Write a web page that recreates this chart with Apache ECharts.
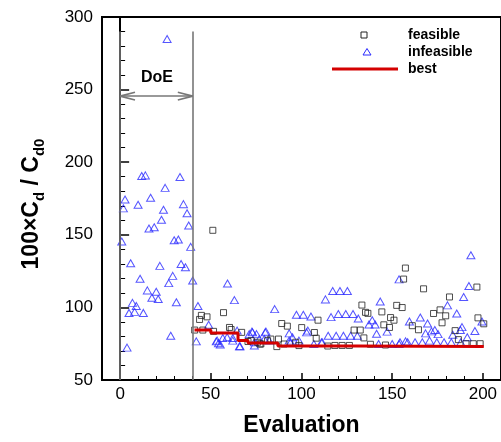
<!DOCTYPE html>
<html>
<head>
<meta charset="utf-8">
<script src="https://cdn.jsdelivr.net/npm/echarts@6/dist/echarts.min.js"></script>
<style>
html,body{margin:0;padding:0;background:#fff;}
#chart{width:501px;height:442px;}
</style>
</head>
<body>
<div id="chart"></div>
<script>
// ---- data ----
const xTicks = [0, 50, 100, 150, 200];
const xMinorTicks = [10,20,30,40,60,70,80,90,110,120,130,140,160,170,180,190];

const doeInfeasible = [
  [0.9,145.4],[1.8,168.2],[2.7,174.3],[3.8,72.3],[4.9,96.2],[5.8,130.4],[6.8,103.1],[8.0,96.9],
  [8.9,101.0],[9.9,170.7],[11.0,119.7],[11.9,190.5],[12.8,96.2],[13.9,190.9],[15.0,111.7],[15.9,154.3],
  [16.8,175.5],[17.5,106.7],[18.8,155.2],[19.9,110.8],[21.0,105.8],[21.9,128.6],[22.8,160.4],[23.9,167.3],
  [24.8,182.3],[25.9,284.8],[26.8,116.7],[27.9,80.5],[29.0,121.7],[29.8,146.3],[31.0,103.5],[32.1,146.8],
  [33.0,189.8],[33.6,129.9],[34.9,171.1],[36.0,127.7],[36.9,164.8],[37.8,156.4],[38.9,141.7],[40.0,118.5]
];

const infeasible = [
  [42.9,101],[42,76.6],[48.8,88],[53,76.6],[53.5,77.1],[54.2,75.3],[55.2,74.4],[56.6,78.9],[59,79.4],
  [59.2,116.5],[62.1,77.1],[62.1,78.9],[63,105],[64.5,84],[65.8,73.2],[66.1,73.2],[71.2,81.6],[72.7,83.3],
  [73,82.8],[74,76],[74,73.7],[75.2,81.6],[76.7,78.2],[79.5,78.2],[80,82.8],[80.4,83.3],[82.2,77.1],
  [85.2,98.8],[93.2,77.1],[93.2,82.1],[94,76],[95,79.4],[97.2,94.9],[98.6,77.1],[101,94.9],[102.8,82.8],
  [103.5,84],[105.2,93.7],[106.8,74.8],[111,76],[111.4,76],[113.2,105.5],[114.7,80.5],[116.3,93.3],
  [117.2,111.3],[119.1,80.5],[120.3,95.5],[121.2,111.3],[123.1,80.5],[124.4,95.5],[125.3,111.3],
  [127.1,80.5],[128.4,95.5],[130.8,80.5],[131.3,92.4],[137.2,88.2],[139,91.2],[140.6,88.2],[141.4,81.8],
  [142.5,74.8],[143.4,104.1],[147.2,83.3],[150,74.8],[153.8,119.3],[153.8,74.8],[154.3,76],[157.4,76.6],
  [158.5,76],[159.5,90.3],[162.6,76],[165.5,93],[166.6,76],[168.4,82.1],[169.5,88.9],[170.6,77.1],
  [171.7,83.5],[173.5,84.4],[174.6,76],[175.3,81.6],[178.6,76],[180.5,101.4],[182.6,76],[183.4,81.2],
  [185.6,95.8],[187.6,84.4],[187.8,76],[188.5,86.4],[189.4,107.2],[191.4,79.4],[192.3,114.7],
  [193.4,135.9],[195.6,83.7],[199.5,90.3]
];

const feasible = [
  [41.1,84.4],[43.8,91.7],[44.8,94.5],[45.6,84.4],[47.9,93.5],[51.1,153.1],[51.5,83.5],[57,96.4],
  [60.3,86.2],[61.2,84.8],[67,82.8],[70.5,76.5],[72.2,77.1],[75.8,76],[77.1,74.8],[77.6,74.8],[81.3,77.1],
  [83.1,78.2],[86.4,73],[87.3,78.2],[89.1,88.9],[90.4,74.8],[92.2,87.1],[96.8,76],[98.6,73.7],
  [100.1,86.1],[107.1,82.7],[108.1,78.8],[109.1,91.2],[114.5,73.4],[118.4,73.8],[122.4,73.8],
  [126.4,73.8],[129,84.4],[132.4,84.4],[133.3,101.6],[134.4,79],[135.3,96.6],[136.6,95.9],[138,74.6],
  [144.3,96.9],[145.4,88],[146.3,74.1],[148.5,86.2],[149.1,93],[151,91.2],[152.5,101.4],[155.5,99.9],
  [156.3,119.5],[157.3,127.1],[161.1,87.4],[164.5,84.6],[167.3,112.8],[172.8,95.8],[176.4,98.3],
  [177.5,89.4],[179.5,94.2],[181.6,107.2],[184.7,84],[186.5,77.8],[190.7,75],[194.7,75],[196.7,114],
  [197.3,92.8],[198.5,75],[200.5,88.7]
];

const best = [
  [41,84.4],[50,82.3],[65,77.2],[70.5,75.4],[87,73.5],[130,73.0],[200.5,73.0]
];

// ---- chart ----
const chart = echarts.init(document.getElementById('chart'), null, {renderer:'canvas'});
const FONT = '"Liberation Sans", Arial, sans-serif';
const gray = '#777';

const doeLines = [
  [{coord:[0,290]},{coord:[0,50]}],
  [{coord:[40,290]},{coord:[40,50]}],
  [{coord:[0,245.5]},{coord:[40,245.5]}],
  [{coord:[0,245.5]},{coord:[8.2,248.2]}],
  [{coord:[0,245.5]},{coord:[8.2,242.8]}],
  [{coord:[40,245.5]},{coord:[31.8,248.2]}],
  [{coord:[40,245.5]},{coord:[31.8,242.8]}]
];

chart.setOption({
  animation:false,
  backgroundColor:'#fff',
  grid:{left:102, top:17, width:401, height:366, show:true, borderColor:'#000', borderWidth:2, backgroundColor:'transparent'},
  xAxis:[{
    type:'value', min:-10, max:210,
    axisLine:{show:true, lineStyle:{color:'#000', width:2}},
    axisTick:{show:true, inside:true, length:7, customValues:xTicks, lineStyle:{color:'#000', width:1.5}},
    axisLabel:{show:true, customValues:xTicks, margin:6, fontFamily:FONT, fontSize:17, color:'#000'},
    splitLine:{show:false},
    name:'Evaluation', nameLocation:'middle', nameGap:34,
    nameTextStyle:{fontFamily:FONT, fontSize:23, fontWeight:'bold', color:'#000'}
  },{
    type:'value', min:-10, max:210, position:'bottom',
    axisLine:{show:false},
    axisTick:{show:true, inside:true, length:4, customValues:xMinorTicks, lineStyle:{color:'#000', width:1}},
    axisLabel:{show:false},
    splitLine:{show:false}
  }],
  yAxis:{
    type:'value', min:50, max:300, interval:50,
    axisLine:{show:true, lineStyle:{color:'#000', width:2}},
    axisTick:{show:true, inside:true, length:9, lineStyle:{color:'#000', width:1.5}},
    minorTick:{show:true, splitNumber:5, length:5, lineStyle:{color:'#000', width:1}},
    axisLabel:{margin:9, fontFamily:FONT, fontSize:17, color:'#000'},
    splitLine:{show:false}
  },
  series:[
    {
      name:'doe', type:'scatter', data:doeInfeasible, symbol:'triangle', symbolSize:[8,7],
      itemStyle:{color:'rgba(0,0,0,0)', borderColor:'#2b2bff', borderWidth:1}, z:2,
      markLine:{silent:true, symbol:'none', animation:false, label:{show:false},
        lineStyle:{color:gray, width:1.6, type:'solid'}, emphasis:{disabled:true}, data:doeLines}
    },
    {
      name:'infeasible', type:'scatter', data:infeasible, symbol:'triangle', symbolSize:[8,7],
      itemStyle:{color:'rgba(0,0,0,0)', borderColor:'#2b2bff', borderWidth:1}, z:2
    },
    {
      name:'feasible', type:'scatter', data:feasible, symbol:'rect', symbolSize:6,
      itemStyle:{color:'rgba(0,0,0,0)', borderColor:'#222', borderWidth:1}, z:3
    },
    {
      name:'best', type:'line', data:best, step:'end', showSymbol:false, symbol:'none',
      lineStyle:{color:'#d40000', width:3}, z:4
    }
  ],
  graphic:[
    {type:'text', x:157, y:78, style:{text:'DoE', font:'bold 16px '+FONT, fill:'#000', align:'center', verticalAlign:'middle'}},
    // y axis title
    {type:'text', x:32, y:204, rotation:Math.PI/2,
      style:{
        text:'{m|100×C}{s|d}{m| / C}{s|d0}',
        align:'center', verticalAlign:'middle',
        rich:{
          m:{font:'bold 23px '+FONT, fill:'#000', verticalAlign:'bottom'},
          s:{font:'bold 15px '+FONT, fill:'#000', verticalAlign:'bottom', padding:[0,0,-4,0]}
        }
      }},
    // legend
    {type:'rect', shape:{x:361, y:32, width:6, height:6}, style:{fill:'none', stroke:'#222', lineWidth:1}},
    {type:'text', x:408, y:35, style:{text:'feasible', font:'bold 14px '+FONT, fill:'#000', verticalAlign:'middle'}},
    {type:'polygon', shape:{points:[[367,48.5],[363,55],[371,55]]}, style:{fill:'none', stroke:'#2b2bff', lineWidth:1}},
    {type:'text', x:408, y:52, style:{text:'infeasible', font:'bold 14px '+FONT, fill:'#000', verticalAlign:'middle'}},
    {type:'line', shape:{x1:332, y1:69, x2:398, y2:69}, style:{stroke:'#d40000', lineWidth:3}},
    {type:'text', x:408, y:69, style:{text:'best', font:'bold 14px '+FONT, fill:'#000', verticalAlign:'middle'}}
  ]
});
</script>
</body>
</html>
